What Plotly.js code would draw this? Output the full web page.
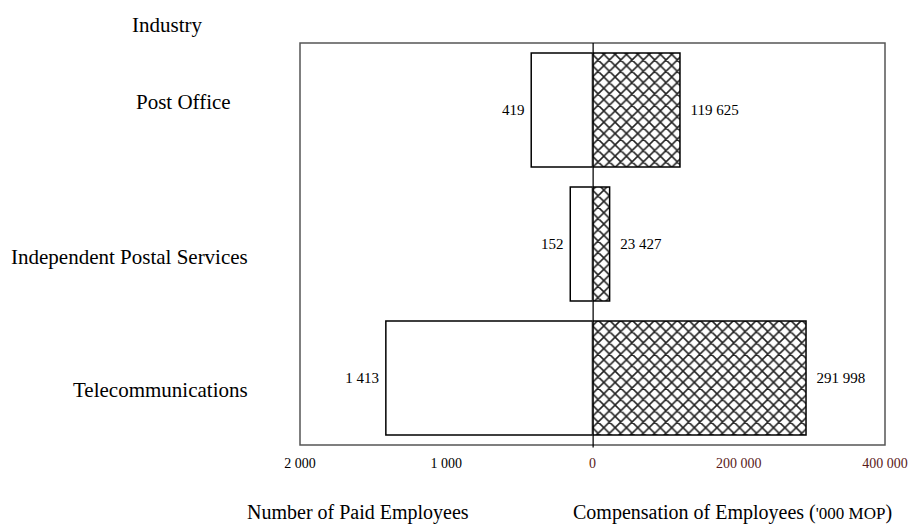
<!DOCTYPE html>
<html>
<head>
<meta charset="utf-8">
<script src="https://cdn.plot.ly/plotly-3.0.1.min.js"></script>
<style>html,body{margin:0;padding:0;background:#fff;}#chart{width:908px;height:530px;}</style>
</head>
<body>
<div id="chart"></div>
<script>
const categories = ['Post Office', 'Independent Postal Services', 'Telecommunications'];
const employees = [419, 152, 1413];
const compensation = [119625, 23427, 291998];
const empTicks = [2000, 1000];
const compTicks = [0, 200000, 400000];

const serif = 'Liberation Serif, Times New Roman, serif';
const nb = '\u00a0';

const traces = [
  {
    type: 'bar', orientation: 'h', y: categories, x: employees,
    xaxis: 'x', yaxis: 'y',
    marker: {color: '#ffffff', line: {color: '#000000', width: 1.5}},
    texttemplate: '%{x:,}' + nb, textposition: 'outside', cliponaxis: false,
    textfont: {family: serif, size: 15, color: '#000'},
    hoverinfo: 'skip'
  },
  {
    type: 'bar', orientation: 'h', y: categories, x: compensation,
    xaxis: 'x2', yaxis: 'y',
    marker: {color: '#ffffff', line: {color: '#000000', width: 1.5},
             pattern: {shape: 'x', fgcolor: '#222222', bgcolor: '#ffffff', size: 8, solidity: 0.35}},
    texttemplate: nb + nb + '%{x:,}', textposition: 'outside', cliponaxis: false,
    textfont: {family: serif, size: 15, color: '#000'},
    hoverinfo: 'skip'
  }
];

const labelX = [-0.1145, -0.0855, -0.0855];
const labelShift = [8, -13, -12];
const annotations = categories.map((c, i) => ({
  text: c, xref: 'paper', yref: 'y', x: labelX[i], y: c, yshift: labelShift[i],
  xanchor: 'right', showarrow: false, font: {family: serif, size: 21, color: '#000'}
}));
annotations.push({text: 'Industry', xref: 'paper', yref: 'paper', x: -0.2265, y: 1.0, yshift: 18,
  xanchor: 'center', yanchor: 'middle', showarrow: false, font: {family: serif, size: 21, color: '#000'}});
annotations.push({text: 'Number of Paid Employees', xref: 'paper', yref: 'paper', x: 0.099, y: 0, yshift: -67,
  xanchor: 'center', yanchor: 'middle', showarrow: false, font: {family: serif, size: 20, color: '#000'}});
annotations.push({text: "Compensation of Employees (<span style='font-size:17px'>'000 MOP</span>)", xref: 'paper', yref: 'paper', x: 0.740, y: 0, yshift: -67,
  xanchor: 'center', yanchor: 'middle', showarrow: false, font: {family: serif, size: 20, color: '#000'}});

const layout = {
  width: 908, height: 530,
  margin: {l: 300, r: 23, t: 43, b: 85},
  paper_bgcolor: '#fff', plot_bgcolor: '#fff',
  separators: '. ',
  showlegend: false,
  barmode: 'overlay',
  bargap: 0.15,
  font: {family: serif, color: '#000'},
  xaxis: {domain: [0, 0.5], range: [2000, 0], tickvals: empTicks, tickformat: ',',
    showgrid: false, zeroline: false, showline: false, ticks: '', ticklabelstandoff: 8,
    tickfont: {family: serif, size: 14, color: '#000'}, anchor: 'y', fixedrange: true},
  xaxis2: {domain: [0.5, 1], range: [0, 400000], tickvals: compTicks, tickformat: ',',
    showgrid: false, zeroline: false, showline: false, ticks: '', ticklabelstandoff: 8,
    tickfont: {family: serif, size: 14, color: '#5a1a1a'}, anchor: 'y', fixedrange: true},
  yaxis: {type: 'category', autorange: 'reversed', showticklabels: false, showgrid: false,
    zeroline: false, showline: false, ticks: '', fixedrange: true},
  shapes: [
    {type: 'rect', xref: 'paper', yref: 'paper', x0: 0, x1: 1, y0: 0, y1: 1,
     line: {color: '#555', width: 1.5}, fillcolor: 'rgba(0,0,0,0)', layer: 'above'},
    {type: 'line', xref: 'x2', yref: 'paper', x0: 0, x1: 0, y0: -0.006, y1: 1,
     line: {color: '#000', width: 2.5}, layer: 'above'}
  ],
  annotations: annotations
};

Plotly.newPlot('chart', traces, layout, {displayModeBar: false, staticPlot: true});
</script>
</body>
</html>
